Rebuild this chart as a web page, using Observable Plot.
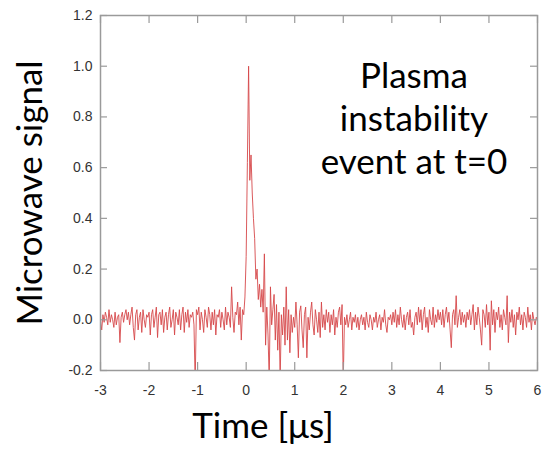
<!DOCTYPE html>
<html><head><meta charset="utf-8">
<script src="https://cdn.jsdelivr.net/npm/d3@7"></script>
<script src="https://cdn.jsdelivr.net/npm/@observablehq/plot@0.6"></script>
<style>body{margin:0;background:#fff} svg g.ticklab text{font-size:14px !important;}</style>
</head><body><div id="chart"></div>
<script>
// sampling grid of the trace (µs)
const t0 = -3, dt = 0.025;
// microwave signal, one value per sample
const signalA = [0.00,-0.04,0.02,-0.01,0.03,0.01,-0.02,0.04,-0.01,0.02,
  0.00,-0.03,0.03,-0.02,0.01,0.02,-0.09,0.01,0.03,-0.01,
  0.02,0.04,0.00,0.03,-0.02,0.02,0.05,-0.03,-0.08,0.02,
  0.04,-0.04,0.01,0.03,-0.05,0.04,0.00,-0.03,0.02,0.01];
const signalB = [0.03,-0.06,0.02,0.04,-0.03,0.01,0.05,-0.07,0.02,0.03,
  -0.02,0.04,-0.05,0.01,0.03,-0.04,0.02,0.05,-0.03,0.00,
  0.04,-0.06,0.03,0.01,-0.02,0.04,-0.04,0.02,0.05,-0.05,
  0.03,-0.01,0.04,-0.03,0.02,0.01,0.03,-0.02,-0.25,0.04];
const signalC = [0.02,0.05,-0.04,0.03,0.00,-0.05,0.04,0.01,-0.03,0.05,
  0.02,-0.04,0.03,-0.02,0.04,-0.06,0.02,0.01,0.04,-0.03,
  0.03,0.00,-0.04,0.05,-0.02,0.03,0.01,-0.03,0.13,0.01,
  -0.05,0.03,0.02,0.07,-0.02,0.05,-0.08,0.04,0.02,0.09];
const signalD = [0.25,0.62,1.00,0.55,0.65,0.50,0.40,0.32,0.16,0.20,
  0.08,0.14,0.05,0.12,0.03,0.26,-0.10,0.05,-0.06,-0.24,
  0.13,-0.02,0.04,0.10,-0.08,0.06,-0.12,0.03,-0.24,0.02,
  -0.06,0.05,-0.10,0.13,-0.08,0.04,-0.13,0.02,-0.05,0.01];
const signalE = [-0.03,0.07,-0.02,-0.15,0.03,0.055,-0.04,-0.11,0.02,0.05,
  -0.15,0.01,-0.04,0.03,0.07,-0.02,-0.06,0.04,0.00,-0.05,
  0.03,-0.07,0.07,-0.03,0.02,-0.04,0.04,-0.01,0.03,-0.05,
  0.02,-0.02,0.04,-0.06,0.01,-0.03,0.03,0.05,-0.02,0.06];
const signalF = [-0.24,0.01,-0.02,0.02,-0.03,0.00,0.03,-0.04,0.01,-0.01,
  0.02,-0.03,0.01,-0.04,0.00,0.02,-0.02,0.01,-0.04,0.03,
  -0.01,-0.03,0.02,0.00,-0.04,0.01,-0.01,0.03,-0.03,0.00,
  0.02,-0.04,0.01,-0.01,0.04,-0.02,-0.05,0.01,0.00,0.02];
const signalG = [-0.02,0.03,-0.01,0.04,-0.03,0.02,-0.02,0.05,0.00,-0.03,
  0.02,-0.04,0.01,0.03,-0.02,0.04,-0.03,-0.01,-0.06,0.01,
  0.03,-0.02,0.05,-0.01,0.04,-0.04,0.02,0.05,-0.03,0.01,
  -0.05,0.04,0.00,-0.02,0.05,-0.03,0.02,-0.01,0.04,0.00];
const signalH = [0.03,-0.02,0.04,-0.03,0.02,0.05,-0.01,0.03,-0.04,-0.11,
  0.02,0.04,-0.02,0.095,-0.03,0.01,0.04,-0.02,0.03,-0.01,
  0.02,-0.03,0.03,0.00,0.04,-0.02,0.02,0.06,-0.04,0.03,
  -0.02,0.05,0.01,-0.04,-0.10,0.04,0.02,-0.03,0.06,-0.02];
const signalI = [0.03,-0.12,0.075,-0.02,0.04,-0.05,0.03,0.00,0.05,-0.03,
  0.02,-0.04,0.04,0.01,-0.02,0.095,-0.09,0.03,-0.01,0.04,
  -0.03,0.02,-0.06,0.03,0.00,0.05,-0.02,0.02,-0.04,0.03,
  0.01,-0.03,0.05,-0.01,0.02,-0.04,0.03,0.00,-0.02,0.01,
  0.00];
const xTicks = [-3,-2,-1,0,1,2,3,4,5,6];
const yTicks = [-0.2,0,0.2,0.4,0.6,0.8,1.0,1.2];
const yLabel = "Microwave signal";
const xLabel = "Time [μs]";
const note = "Plasma\ninstability\nevent at t=0";

const signal = [...signalA,...signalB,...signalC,...signalD,...signalE,...signalF,...signalG,...signalH,...signalI];
const data = signal.map((v,i)=>({t: t0 + i*dt, v}));

const W=544,H=461, mL=100,mR=7,mT=15,mB=91;
const fw=W-mL-mR, fh=H-mT-mB;
const tickCol = "#9a9a9a";
const bigFont = "Lato, 'Open Sans', sans-serif";
const bigSize = 35;
const tickFont = 14;

const chart = Plot.plot({
  width: W, height: H,
  marginLeft: mL, marginRight: mR, marginTop: mT, marginBottom: mB,
  style: {fontFamily: "'Liberation Sans', Arial, sans-serif", fontSize: tickFont + "px", color: "#333", background: "#fff"},
  x: {domain: [-3, 6]},
  y: {domain: [-0.2, 1.2]},
  marks: [
    Plot.axisX({ticks: xTicks, tickSize: 0, tickPadding: 15, fontSize: tickFont, tickFormat: d => String(d), label: null, className: "ticklab"}),
    Plot.axisY({ticks: yTicks, tickSize: 0, tickPadding: 8, fontSize: tickFont, tickFormat: d => d.toFixed(1), label: null, className: "ticklab"}),
    Plot.line(data, {x: "t", y: "v", stroke: "#d6474a", strokeWidth: 0.9, clip: true}),
    Plot.tickY(yTicks, {y: d => d, insetRight: fw - 7, stroke: tickCol, strokeWidth: 1.2}),
    Plot.tickY(yTicks, {y: d => d, insetLeft: fw - 7, stroke: tickCol, strokeWidth: 1.2}),
    Plot.tickX(xTicks, {x: d => d, insetTop: fh - 8, stroke: tickCol, strokeWidth: 1.2}),
    Plot.tickX(xTicks, {x: d => d, insetBottom: fh - 8, stroke: tickCol, strokeWidth: 1.2}),
    Plot.frame({stroke: tickCol, strokeWidth: 1.5}),
    Plot.text([yLabel], {frameAnchor: "left", textAnchor: "middle", dx: -70, rotate: -90, fontSize: bigSize, fontFamily: bigFont, fill: "#000"}),
    Plot.text([xLabel], {frameAnchor: "bottom", textAnchor: "middle", dx: -56, dy: 67, fontSize: bigSize, fontFamily: bigFont, fill: "#000"}),
    Plot.text([note], {frameAnchor: "top", textAnchor: "middle", dx: 95, dy: 102, lineAnchor: "middle", lineHeight: 1.22, fontSize: bigSize, fontFamily: bigFont, fill: "#000"})
  ]
});
// force tick label size on every axis text
d3.select(chart).selectAll("g[aria-label$='tick label'] text").style("font-size", tickFont + "px").attr("fill", "#333");
document.getElementById("chart").appendChild(chart);
</script>
</body></html>
